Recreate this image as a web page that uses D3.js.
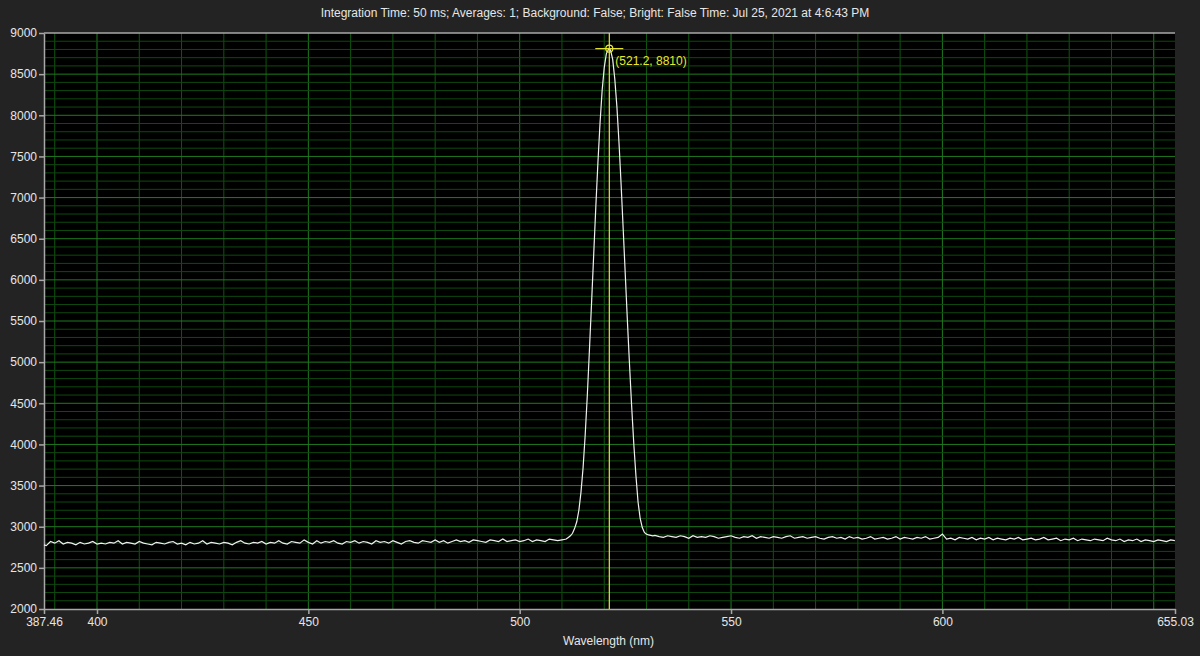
<!DOCTYPE html>
<html><head><meta charset="utf-8">
<script src="https://cdn.jsdelivr.net/npm/d3@7"></script>
<style>body{margin:0;background:#232323}svg{display:block;font-family:"Liberation Sans",Arial,sans-serif}</style>
</head><body><div id="chart"></div>
<script>
const title = "Integration Time: 50 ms; Averages: 1; Background: False; Bright: False Time: Jul 25, 2021 at 4:6:43 PM";
const xTicks = [387.46, 400, 450, 500, 550, 600, 655.03];
const yTicks = [2000,2500,3000,3500,4000,4500,5000,5500,6000,6500,7000,7500,8000,8500,9000];
const peak = [521.2, 8810];

// baseline left of peak, 388..509 nm, 1 nm steps
const leftCounts = [2770,2820,2800,2830,2790,2810,2800,2780,2810,2790,2800,2820,2790,2800,2790,2810,
  2800,2830,2790,2810,2800,2790,2820,2800,2790,2780,2810,2800,2790,2810,2820,2790,2800,2780,2810,
  2790,2800,2830,2790,2810,2800,2790,2810,2800,2780,2810,2830,2800,2790,2810,2800,2820,2790,2810,
  2800,2830,2800,2790,2820,2810,2800,2840,2810,2790,2830,2800,2820,2810,2830,2800,2790,2820,2810,
  2830,2800,2820,2810,2790,2830,2810,2820,2800,2830,2810,2790,2820,2830,2810,2800,2830,2820,2810,
  2840,2810,2830,2800,2820,2840,2820,2830,2810,2840,2830,2820,2810,2840,2830,2820,2850,2820,2830,
  2840,2820,2830,2850,2820,2840,2830,2820,2850,2840,2830];
// peak region 510..532 nm, 0.5 nm steps (plus 521.2)
const peakWl = [510,510.5,511,511.5,512,512.5,513,513.5,514,514.5,515,515.5,516,516.5,517,517.5,518,518.5,
  519,519.5,520,520.5,521,521.2,521.5,522,522.5,523,523.5,524,524.5,525,525.5,526,526.5,527,527.5,528,
  528.5,529,529.5,530,530.5,531,531.5,532];
const peakCounts = [2840,2845,2850,2870,2890,2920,2980,3060,3200,3420,3720,4120,4600,5150,5720,6300,6880,7420,
  7900,8300,8580,8750,8800,8810,8790,8680,8440,8100,7660,7150,6600,6040,5480,4950,4450,4000,3620,3300,
  3100,2990,2930,2910,2900,2895,2890,2895];
// baseline right of peak, 533..655 nm, 1 nm steps
const rightCounts = [2880,2870,2890,2880,2870,2890,2880,2860,2890,2870,2880,2870,2890,2880,2860,2870,2880,
  2890,2870,2860,2880,2870,2890,2860,2880,2870,2860,2880,2870,2860,2880,2890,2860,2870,2880,2860,2870,
  2880,2860,2850,2870,2880,2860,2870,2850,2880,2860,2870,2850,2860,2880,2850,2860,2870,2850,2860,2880,
  2850,2870,2860,2850,2870,2860,2880,2850,2860,2870,2910,2850,2860,2840,2870,2860,2850,2870,2840,2860,
  2850,2870,2840,2860,2850,2840,2860,2850,2870,2840,2850,2860,2840,2850,2870,2840,2850,2860,2830,2850,
  2840,2860,2830,2850,2840,2830,2850,2840,2830,2860,2840,2830,2850,2820,2840,2830,2850,2820,2840,2830,
  2820,2840,2830,2820,2840,2830];

const data = [];
leftCounts.forEach((c, i) => data.push([388 + i, c]));
peakWl.forEach((w, i) => data.push([w, peakCounts[i]]));
rightCounts.forEach((c, i) => data.push([533 + i, c]));
data.unshift([387.46, 2780]);

const W = 1200, H = 656;
const m = {left: 44, right: 25, top: 33, bottom: 47};
const svg = d3.select('#chart').append('svg').attr('width', W).attr('height', H);
svg.append('rect').attr('width', W).attr('height', H).attr('fill', '#232323');

const x = d3.scaleLinear().domain([387.46, 655.03]).range([m.left, W - m.right]);
const y = d3.scaleLinear().domain([2000, 9000]).range([H - m.bottom, m.top]);

svg.append('rect').attr('x', m.left).attr('y', m.top)
  .attr('width', x.range()[1] - m.left).attr('height', y.range()[0] - m.top).attr('fill', '#000');

const grid = svg.append('g');
d3.range(390, 656, 10).forEach(v => {
  grid.append('line').attr('x1', x(v)).attr('x2', x(v)).attr('y1', m.top).attr('y2', y(2000))
    .attr('stroke', v % 50 === 0 ? '#1f7a1f' : '#0f550f').attr('stroke-width', 1);
});
d3.range(2100, 9000, 100).forEach(v => {
  grid.append('line').attr('x1', m.left).attr('x2', x.range()[1]).attr('y1', y(v)).attr('y2', y(v))
    .attr('stroke', v % 500 === 0 ? '#1f7a1f' : '#0e4a0e').attr('stroke-width', 1);
});

const xAxis = svg.append('g').attr('transform', `translate(0,${y(2000)})`)
  .call(d3.axisBottom(x).tickValues(xTicks).tickFormat(d => String(d)).tickSize(5).tickSizeOuter(0));
const yAxis = svg.append('g').attr('transform', `translate(${m.left},0)`)
  .call(d3.axisLeft(y).tickValues(yTicks).tickFormat(d => String(d)).tickSize(5).tickSizeOuter(0));
[xAxis, yAxis].forEach(a => {
  a.selectAll('path,line').attr('stroke', '#a8a8a8').attr('stroke-width', 1.5);
  a.selectAll('text').attr('fill', '#e6e6e6').style('font-size', '12px');
});
yAxis.selectAll('text').attr('x', -7);
svg.append('line').attr('x1', m.left).attr('x2', x.range()[1]).attr('y1', m.top).attr('y2', m.top)
  .attr('stroke', '#a8a8a8').attr('stroke-width', 1.5);

svg.append('path').datum(data)
  .attr('d', d3.line().x(d => x(d[0])).y(d => y(d[1])))
  .attr('fill', 'none').attr('stroke', '#f0f0f0').attr('stroke-width', 1.2);

const cx = x(peak[0]), cy = y(peak[1]);
svg.append('line').attr('x1', cx).attr('x2', cx).attr('y1', m.top).attr('y2', y(2000))
  .attr('stroke', '#e8e830').attr('stroke-width', 1.2);
svg.append('line').attr('x1', cx - 14).attr('x2', cx + 14).attr('y1', cy).attr('y2', cy)
  .attr('stroke', '#e8e830').attr('stroke-width', 1.2);
svg.append('circle').attr('cx', cx).attr('cy', cy).attr('r', 3.5)
  .attr('fill', 'none').attr('stroke', '#e8e830').attr('stroke-width', 1.2);
svg.append('text').attr('x', cx + 6).attr('y', cy + 16).attr('fill', '#e8e830')
  .style('font-size', '12px').text(`(${peak[0]}, ${peak[1]})`);

svg.append('text').attr('x', 595).attr('y', 17).attr('text-anchor', 'middle')
  .attr('fill', '#e6e6e6').style('font-size', '12px').text(title);
svg.append('text').attr('x', x(521)).attr('y', 645).attr('text-anchor', 'middle')
  .attr('fill', '#e6e6e6').style('font-size', '12px').text('Wavelength (nm)');
</script></body></html>
